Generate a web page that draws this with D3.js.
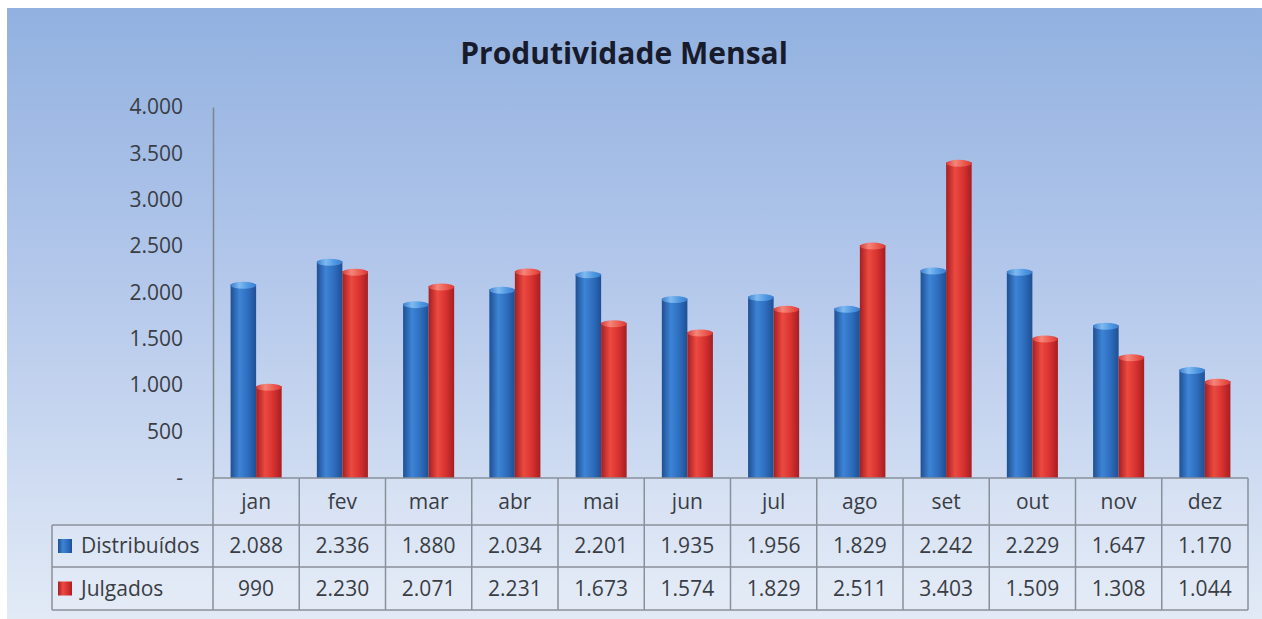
<!DOCTYPE html>
<html>
<head>
<meta charset="utf-8">
<script src="https://cdn.jsdelivr.net/npm/d3@7"></script>
<style>
  body { margin: 0; background: #fff; }
  svg text { font-family: "Open Sans", sans-serif; }
</style>
</head>
<body>
<div class="chart"></div>
<script>
const months = ['jan', 'fev', 'mar', 'abr', 'mai', 'jun', 'jul', 'ago', 'set', 'out', 'nov', 'dez'];
const distribuidos = [2088, 2336, 1880, 2034, 2201, 1935, 1956, 1829, 2242, 2229, 1647, 1170];
const julgados = [990, 2230, 2071, 2231, 1673, 1574, 1829, 2511, 3403, 1509, 1308, 1044];
const seriesNames = ['Distribuídos', 'Julgados'];
const yTicks = [0, 500, 1000, 1500, 2000, 2500, 3000, 3500, 4000];

const W = 1262, H = 619;
const plot = { left: 213, right: 1248, top: 107, bottom: 478 };
const table = { left: 52, rowH: [47, 42, 43] };
const textColor = '#3a3d44';

const locale = d3.formatLocale({ decimal: ',', thousands: '.', grouping: [3], currency: ['R$', ''] });
const fmt = locale.format(',d');

const svg = d3.select('.chart').append('svg')
  .attr('width', W)
  .attr('height', H);

const defs = svg.append('defs');

// background gradient
const bg = defs.append('linearGradient').attr('id', 'bg').attr('x1', 0).attr('y1', 0).attr('x2', 0).attr('y2', 1);
bg.append('stop').attr('offset', '0%').attr('stop-color', '#92b1e0');
bg.append('stop').attr('offset', '45%').attr('stop-color', '#b4c8eb');
bg.append('stop').attr('offset', '100%').attr('stop-color', '#e2eaf6');

// cylinder gradients
function cyl(id, dark, mid, light) {
  const g = defs.append('linearGradient').attr('id', id).attr('x1', 0).attr('y1', 0).attr('x2', 1).attr('y2', 0);
  g.append('stop').attr('offset', '0%').attr('stop-color', dark);
  g.append('stop').attr('offset', '35%').attr('stop-color', light);
  g.append('stop').attr('offset', '70%').attr('stop-color', mid);
  g.append('stop').attr('offset', '100%').attr('stop-color', dark);
}
cyl('blue', '#1f4f92', '#2d6cbc', '#3d84d6');
cyl('red', '#a51e22', '#d5302f', '#ec4a40');
cyl('blueTop', '#3b7fcf', '#4f97e2', '#7fbaf0');
cyl('redTop', '#d83a36', '#ec5a50', '#f5857a');

svg.append('rect')
  .attr('x', 7).attr('y', 8)
  .attr('width', W - 7).attr('height', H - 8)
  .attr('fill', 'url(#bg)');

svg.append('text')
  .attr('x', 624).attr('y', 64)
  .attr('text-anchor', 'middle')
  .style('font-size', '30px')
  .style('font-weight', 'bold')
  .attr('fill', '#171b2c')
  .text('Produtividade Mensal');

const x = d3.scaleBand().domain(months).range([plot.left, plot.right]);
const y = d3.scaleLinear().domain([0, 4000]).range([plot.bottom, plot.top]);

const barW = x.bandwidth() * 0.296;

// y axis
const yAxis = svg.append('g')
  .attr('transform', `translate(${plot.left},0)`)
  .call(d3.axisLeft(y).tickValues(yTicks).tickSize(0).tickPadding(30)
    .tickFormat(d => d === 0 ? '-' : fmt(d)));
yAxis.select('.domain').attr('stroke', '#7d8590').attr('stroke-width', 1.5);
yAxis.selectAll('text')
  .style('font-size', '21px')
  .style('font-family', '"Open Sans", sans-serif')
  .attr('fill', textColor);

// bars
const series = [
  { name: seriesNames[0], values: distribuidos, fill: 'url(#blue)', top: 'url(#blueTop)', offset: -1 },
  { name: seriesNames[1], values: julgados, fill: 'url(#red)', top: 'url(#redTop)', offset: 0 }
];

series.forEach(s => {
  const g = svg.append('g');
  const bx = (d, i) => x(months[i]) + x.bandwidth() / 2 + s.offset * barW;
  g.selectAll('rect')
    .data(s.values)
    .enter()
    .append('rect')
    .attr('x', bx)
    .attr('y', d => y(d))
    .attr('width', barW)
    .attr('height', d => y(0) - y(d))
    .attr('fill', s.fill);
  g.selectAll('ellipse')
    .data(s.values)
    .enter()
    .append('ellipse')
    .attr('cx', (d, i) => bx(d, i) + barW / 2)
    .attr('cy', d => y(d) + 1)
    .attr('rx', barW / 2)
    .attr('ry', 3.5)
    .attr('fill', s.top);
});

// data table
const gridColor = '#8a909a';
const rowTops = [plot.bottom, plot.bottom + table.rowH[0], plot.bottom + table.rowH[0] + table.rowH[1]];
const tableBottom = rowTops[2] + table.rowH[2];
const tg = svg.append('g');

// light cell fill
tg.append('rect')
  .attr('x', plot.left).attr('y', rowTops[0])
  .attr('width', plot.right - plot.left).attr('height', table.rowH[0])
  .attr('fill', '#ffffff').attr('fill-opacity', 0.12);
tg.append('rect')
  .attr('x', table.left).attr('y', rowTops[1])
  .attr('width', plot.right - table.left).attr('height', tableBottom - rowTops[1])
  .attr('fill', '#ffffff').attr('fill-opacity', 0.12);

// horizontal lines
tg.append('line').attr('x1', plot.left).attr('x2', plot.right).attr('y1', rowTops[0]).attr('y2', rowTops[0]);
[rowTops[1], rowTops[2], tableBottom].forEach(yy => {
  tg.append('line').attr('x1', table.left).attr('x2', plot.right).attr('y1', yy).attr('y2', yy);
});
// vertical lines
tg.append('line').attr('x1', table.left).attr('x2', table.left).attr('y1', rowTops[1]).attr('y2', tableBottom);
months.forEach(m => {
  tg.append('line').attr('x1', x(m)).attr('x2', x(m)).attr('y1', rowTops[0]).attr('y2', tableBottom);
});
tg.append('line').attr('x1', plot.right).attr('x2', plot.right).attr('y1', rowTops[0]).attr('y2', tableBottom);
tg.selectAll('line').attr('stroke', gridColor).attr('stroke-width', 1.5);

// category labels
tg.selectAll('.cat')
  .data(months)
  .enter()
  .append('text')
  .attr('class', 'cat')
  .attr('x', d => x(d) + x.bandwidth() / 2)
  .attr('y', rowTops[0] + table.rowH[0] / 2)
  .attr('dy', '0.35em')
  .attr('text-anchor', 'middle')
  .style('font-size', '21px')
  .attr('fill', textColor)
  .text(d => d);

series.forEach((s, si) => {
  const top = rowTops[si + 1];
  const mid = top + table.rowH[si + 1] / 2;
  tg.append('rect')
    .attr('x', table.left + 6).attr('y', mid - 7)
    .attr('width', 14).attr('height', 14)
    .attr('fill', s.fill);
  tg.append('text')
    .attr('x', table.left + 29).attr('y', mid)
    .attr('dy', '0.35em')
    .style('font-size', '21px')
    .attr('fill', textColor)
    .text(s.name);
  tg.selectAll('.v' + si)
    .data(s.values)
    .enter()
    .append('text')
    .attr('class', 'v' + si)
    .attr('x', (d, i) => x(months[i]) + x.bandwidth() / 2)
    .attr('y', mid)
    .attr('dy', '0.35em')
    .attr('text-anchor', 'middle')
    .style('font-size', '21px')
    .attr('fill', textColor)
    .text(d => fmt(d));
});
</script>
</body>
</html>
